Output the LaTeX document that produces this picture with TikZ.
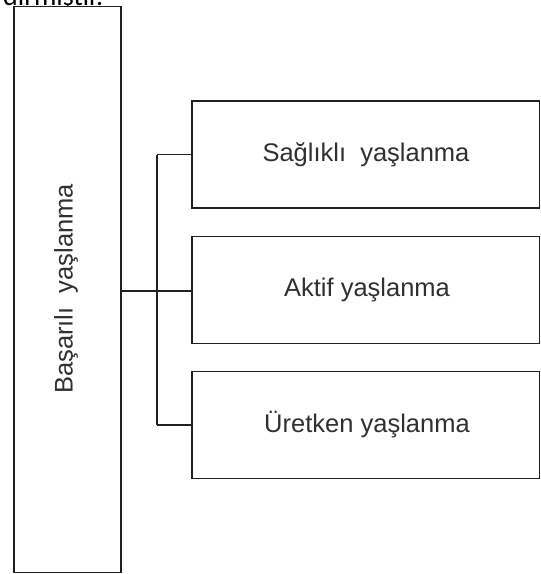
\documentclass[tikz,border=0pt]{standalone}
\usepackage{fontspec}
\setmainfont{Liberation Sans}
\newfontfamily\topfont{Carlito}
\definecolor{txt}{HTML}{303030}
\definecolor{ln}{HTML}{202020}
\begin{document}
\begin{tikzpicture}[x=1pt,y=-1pt,
  boxst/.style={draw=ln, line width=1.4pt, fill=white, inner sep=0pt},
  lbl/.style={text=txt, font=\fontsize{25.5}{30}\selectfont},
  conn/.style={draw=ln, line width=1.2pt}]
\useasboundingbox (0,0) rectangle (541,574);
\clip (0,0) rectangle (541,574);
% clipped text at top
\node[anchor=base west, inner sep=0pt, font=\topfont\fontsize{28}{32}\selectfont] (top) at (3,5) {dırmıştır.};
% left box
\node[boxst, minimum width=107pt, minimum height=566pt] (main) at (67.5,289.5) {};
\node[lbl, rotate=90] (mainlbl) at (66,289) {Başarılı~~yaşlanma};
% right boxes
\node[boxst, minimum width=347.5pt, minimum height=107pt] (b1) at (365.75,154.5) {};
\node[lbl] (l1) at (366,155) {Sağlıklı~~yaşlanma};
\node[boxst, minimum width=347.5pt, minimum height=107pt] (b2) at (365.75,290) {};
\node[lbl] (l2) at (367,290) {Aktif yaşlanma};
\node[boxst, minimum width=347.5pt, minimum height=107pt] (b3) at (365.75,425) {};
\node[lbl] (l3) at (367,425) {Üretken yaşlanma};
% connectors
\coordinate (j) at (157,291);
\draw[conn, line width=2.6pt] (main.east |- j) -- (j);
\draw[conn] (j) -- (b2.west |- j);
\draw[conn] (j |- b1.west) -- (j |- b3.west);
\draw[conn] (j |- b1.west) -- (b1.west);
\draw[conn] (j |- b3.west) -- (b3.west);
\end{tikzpicture}
\end{document}
